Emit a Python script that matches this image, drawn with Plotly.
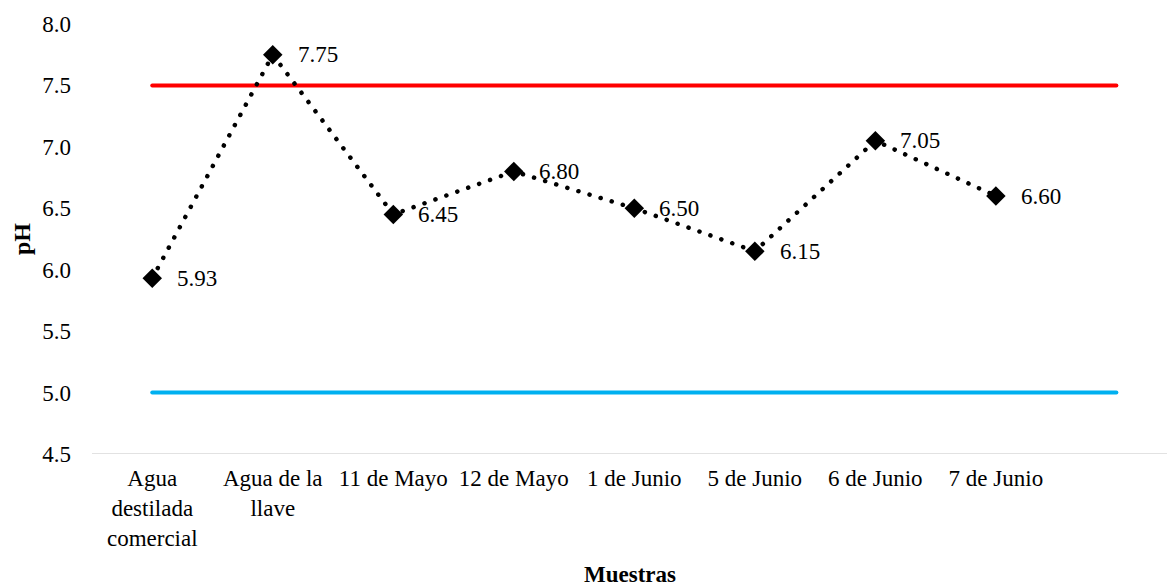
import plotly.graph_objects as go

# Muestras de agua y su pH medido
muestras = [
    "Agua<br>destilada<br>comercial",
    "Agua de la<br>llave",
    "11 de Mayo",
    "12 de Mayo",
    "1 de Junio",
    "5 de Junio",
    "6 de Junio",
    "7 de Junio",
]
ph = [5.93, 7.75, 6.45, 6.80, 6.50, 6.15, 7.05, 6.60]

# Límites de referencia
limite_superior = 7.5
limite_inferior = 5.0
ticks_y = [4.5, 5.0, 5.5, 6.0, 6.5, 7.0, 7.5, 8.0]

FONT = "Liberation Serif"
FS = 23
x_idx = list(range(len(muestras)))
x_lim = [0, len(muestras)]

fig = go.Figure()

fig.add_trace(go.Scatter(
    x=x_lim, y=[limite_superior] * 2, mode="lines",
    line=dict(color="#FF0000", width=4), hoverinfo="skip", showlegend=False,
))
fig.add_trace(go.Scatter(
    x=x_lim, y=[limite_inferior] * 2, mode="lines",
    line=dict(color="#00B0F0", width=4), hoverinfo="skip", showlegend=False,
))
fig.add_trace(go.Scatter(
    x=x_idx, y=ph, mode="lines+markers",
    line=dict(color="black", width=4.5, dash="0.1px,11.5px"),
    marker=dict(symbol="diamond", size=15, color="black"),
    cliponaxis=False, showlegend=False,
))

# Etiquetas de valor a la derecha de cada punto
for xi, v in zip(x_idx, ph):
    fig.add_annotation(
        x=xi, y=v, text=f"{v:.2f}", showarrow=False,
        xanchor="left", yanchor="middle", xshift=23,
        font=dict(family=FONT, size=FS, color="black"),
    )

# Títulos de los ejes
fig.add_annotation(
    x=0.5, y=0, xref="paper", yref="paper", yshift=-135,
    text="<b>Muestras</b>", showarrow=False, yanchor="bottom",
    font=dict(family=FONT, size=FS, color="black"),
)
fig.add_annotation(
    x=0, y=0.5, xref="paper", yref="paper", xshift=-70,
    text="<b>pH</b>", showarrow=False, textangle=-90, xanchor="center",
    font=dict(family=FONT, size=24, color="black"),
)

fig.update_layout(
    width=1167, height=587,
    margin=dict(l=92, r=0, t=24, b=133),
    paper_bgcolor="white", plot_bgcolor="white",
    font=dict(family=FONT, size=FS, color="black"),
    xaxis=dict(
        range=[-0.5, 8.42], tickmode="array", tickvals=x_idx, ticktext=muestras,
        showgrid=False, zeroline=False, showline=False, ticks="",
        ticklabelstandoff=8, tickangle=0,
        tickfont=dict(family=FONT, size=FS, color="black"),
    ),
    yaxis=dict(
        range=[4.5, 8.0], tickmode="array", tickvals=ticks_y,
        ticktext=[f"{t:.1f}" for t in ticks_y],
        showgrid=False, zeroline=False, showline=False, ticks="",
        ticklabelstandoff=20,
        tickfont=dict(family=FONT, size=FS, color="black"),
    ),
    shapes=[dict(
        type="line", xref="paper", yref="y", x0=0, x1=1, y0=4.5, y1=4.5,
        line=dict(color="#D9D9D9", width=1.5), layer="below",
    )],
)

# Puntos redondos en la línea punteada y extremos redondeados
round_caps = (
    "document.querySelectorAll('.scatterlayer .js-line')"
    ".forEach(function(p){p.style.strokeLinecap='round';});"
)

fig.write_html("out.html", post_script=round_caps)
